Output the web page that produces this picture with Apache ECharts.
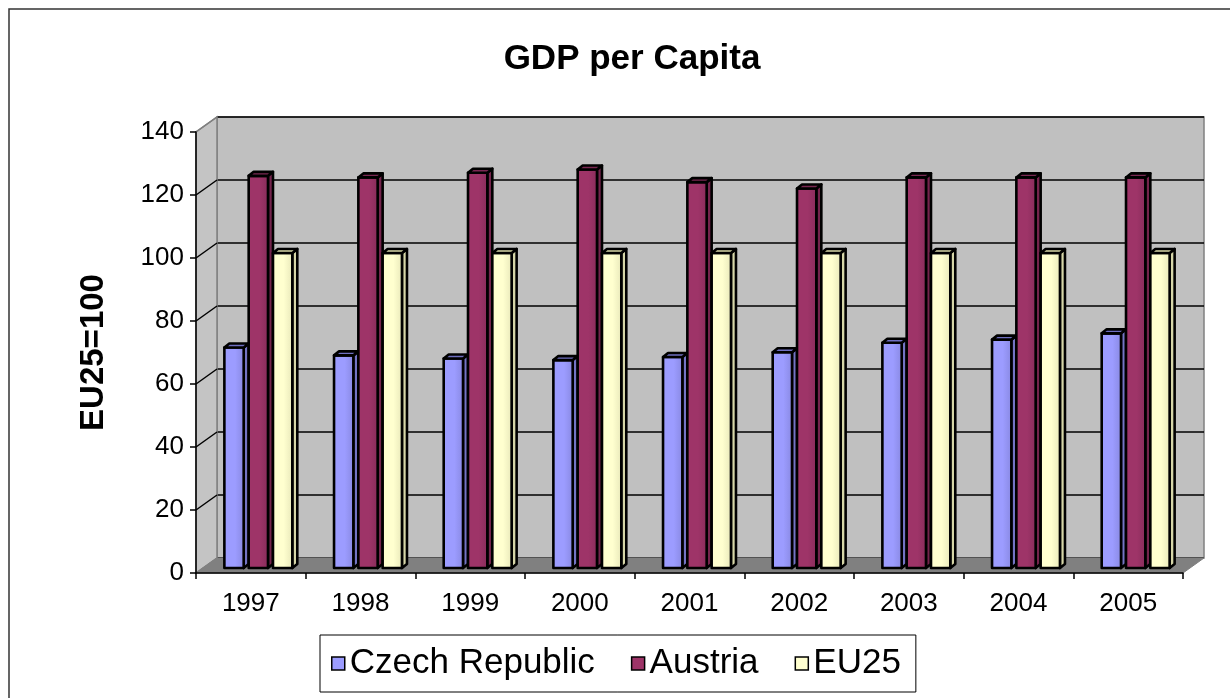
<!DOCTYPE html>
<html>
<head>
<meta charset="utf-8">
<script src="https://cdn.jsdelivr.net/npm/echarts@6/dist/echarts.min.js"></script>
<style>
html,body{margin:0;padding:0;background:#fff;}
#chart{width:1230px;height:698px;}
</style>
</head>
<body>
<div id="chart"></div>
<script>
// ---- data ----
const years = ['1997','1998','1999','2000','2001','2002','2003','2004','2005'];
const czech = [70, 67.5, 66.5, 66, 67, 68.5, 71.5, 72.5, 74.5];
const austria = [124.5, 124, 125.5, 126.5, 122.5, 120.5, 124, 124, 124];
const eu25 = [100, 100, 100, 100, 100, 100, 100, 100, 100];
const seriesNames = ['Czech Republic', 'Austria', 'EU25'];
const yTicks = [0, 20, 40, 60, 80, 100, 120, 140];

// ---- layout / style ----
const W = 1230, H = 698;
const FRONT = {left: 196, top: 132, right: 47, bottom: 125};
const DX = 21, DY = 15;
const BACK = {left: FRONT.left + DX, top: FRONT.top - DY, right: FRONT.right - DX, bottom: FRONT.bottom + DY};
const BARG = {left: FRONT.left + 10, top: FRONT.top - 5, right: FRONT.right - 10, bottom: FRONT.bottom + 5};
const FONT = '"Liberation Sans", Arial, sans-serif';

const palette = [
  {front: ['#9c9cff', '#8787e0'], side: '#7474c4', cap: '#6f6fc0'},
  {front: ['#9e3468', '#872c5a'], side: '#74244c', cap: '#7a2852'},
  {front: ['#ffffcf', '#e6e6b8'], side: '#d6d6a8', cap: '#d8d8a8'}
];

const fx0 = FRONT.left, fx1 = W - FRONT.right, fy0 = FRONT.top, fy1 = H - FRONT.bottom;

function barRenderer(si) {
  return function (params, api) {
    const cat = api.value(0), val = api.value(1);
    const base = api.coord([cat, 0]);
    const top = api.coord([cat, val]);
    const band = api.size([1, 0])[0];
    const groupW = band * 0.665;
    const slot = groupW / 3;
    const dx = 5, dy = 4;
    const faceW = slot - dx;
    const x0 = base[0] - groupW / 2 + si * slot;
    const c = palette[si];
    const stroke = {stroke: '#000', lineWidth: 2.6, lineJoin: 'round'};
    return {
      type: 'group',
      children: [
        {type: 'polygon', shape: {points: [[x0 + faceW, top[1]], [x0 + faceW + dx, top[1] - dy], [x0 + faceW + dx, base[1] - dy], [x0 + faceW, base[1]]]},
         style: Object.assign({fill: c.side}, stroke)},
        {type: 'rect', shape: {x: x0, y: top[1], width: faceW, height: base[1] - top[1]},
         style: Object.assign({fill: new echarts.graphic.LinearGradient(0, 0, 1, 0, [{offset: 0, color: c.front[0]}, {offset: 0.55, color: c.front[0]}, {offset: 1, color: c.front[1]}])}, stroke)},
        {type: 'polygon', shape: {points: [[x0, top[1]], [x0 + dx, top[1] - dy], [x0 + faceW + dx, top[1] - dy], [x0 + faceW, top[1]]]},
         style: Object.assign({fill: c.cap}, stroke)}
      ]
    };
  };
}

const chart = echarts.init(document.getElementById('chart'), null, {renderer: 'canvas'});

const option = {
  backgroundColor: '#fff',
  animation: false,
  title: {
    text: 'GDP per Capita', left: 627, top: 37, textAlign: 'center',
    textStyle: {fontFamily: FONT, fontSize: 35, fontWeight: 'bold', color: '#000'}
  },
  legend: {
    data: seriesNames.map((n, i) => ({name: n, itemStyle: {color: palette[i].front[0], borderColor: '#000', borderWidth: 1.5}})),
    left: 320, top: 635, icon: 'rect', itemWidth: 13, itemHeight: 13, itemGap: 36,
    padding: [11, 15, 11, 11],
    borderColor: '#000', borderWidth: 1, backgroundColor: '#fff',
    textStyle: {fontFamily: FONT, fontSize: 35, color: '#000'}
  },
  graphic: [
    {type: 'rect', z: 0, shape: {x: 9, y: 9, width: 1240, height: 720}, style: {fill: 'none', stroke: '#333', lineWidth: 1.5}},
    {type: 'polygon', z: 1, shape: {points: [[fx0, fy1], [fx0, fy0], [fx0 + DX, fy0 - DY], [fx0 + DX, fy1 - DY]]},
     style: {fill: '#c4c4c4', stroke: '#808080', lineWidth: 1.5}},
    {type: 'polygon', z: 1, shape: {points: [[fx0, fy1], [fx1, fy1], [fx1 + DX, fy1 - DY], [fx0 + DX, fy1 - DY]]},
     style: {fill: '#808080', stroke: '#808080', lineWidth: 1}}
  ],
  grid: [
    {left: FRONT.left, top: FRONT.top, right: FRONT.right, bottom: FRONT.bottom, containLabel: false},
    {left: BACK.left, top: BACK.top, right: BACK.right, bottom: BACK.bottom, show: true, backgroundColor: '#c0c0c0', borderColor: '#808080', borderWidth: 1.5},
    {left: BARG.left, top: BARG.top, right: BARG.right, bottom: BARG.bottom}
  ],
  xAxis: [
    {type: 'category', gridIndex: 0, data: years, z: 10,
     axisLine: {lineStyle: {color: '#000', width: 1.5}},
     axisTick: {show: true, length: 6, lineStyle: {color: '#000', width: 1.5}},
     axisLabel: {margin: 18, fontFamily: FONT, fontSize: 26, color: '#000'},
     splitLine: {show: false}},
    {type: 'category', gridIndex: 1, data: years, show: false},
    {type: 'category', gridIndex: 2, data: years, show: false}
  ],
  yAxis: [
    {type: 'value', gridIndex: 0, min: 0, max: 140, interval: 20, z: 10,
     name: 'EU25=100', nameLocation: 'middle', nameGap: 86, nameRotate: 90,
     nameTextStyle: {fontFamily: FONT, fontSize: 33, fontWeight: 'bold', color: '#000'},
     axisLine: {show: true, lineStyle: {color: '#000', width: 1.5}},
     axisTick: {show: true, length: 6, lineStyle: {color: '#000', width: 1.5}},
     axisLabel: {margin: 12, fontFamily: FONT, fontSize: 26, color: '#000'},
     splitLine: {show: false}},
    {type: 'value', gridIndex: 1, min: 0, max: 140, interval: 20,
     axisLine: {show: false}, axisTick: {show: false}, axisLabel: {show: false},
     splitLine: {show: true, lineStyle: {color: '#000', width: 1.5}}},
    {type: 'value', gridIndex: 2, min: 0, max: 140, interval: 20, show: false, splitLine: {show: false}}
  ],
  series: [
    {
      type: 'custom', name: 'sidewall-grid', xAxisIndex: 0, yAxisIndex: 0, z: 1, silent: true,
      data: yTicks.map(v => [0, v]),
      renderItem: function (params, api) {
        const v = api.value(1);
        const p = api.coord([0, v]);
        const x = params.coordSys.x;
        const edge = (v === 0 || v === 140);
        return {type: 'line', shape: {x1: x, y1: p[1], x2: x + DX, y2: p[1] - DY},
                style: {stroke: edge ? '#808080' : '#000', lineWidth: 1.5}};
      }
    },
    {type: 'custom', name: seriesNames[0], xAxisIndex: 2, yAxisIndex: 2, z: 3,
     itemStyle: {color: palette[0].front[0]}, data: czech.map((v, i) => [i, v]), renderItem: barRenderer(0)},
    {type: 'custom', name: seriesNames[1], xAxisIndex: 2, yAxisIndex: 2, z: 3,
     itemStyle: {color: palette[1].front[0]}, data: austria.map((v, i) => [i, v]), renderItem: barRenderer(1)},
    {type: 'custom', name: seriesNames[2], xAxisIndex: 2, yAxisIndex: 2, z: 3,
     itemStyle: {color: palette[2].front[0]}, data: eu25.map((v, i) => [i, v]), renderItem: barRenderer(2)}
  ]
};
chart.setOption(option);
</script>
</body>
</html>
